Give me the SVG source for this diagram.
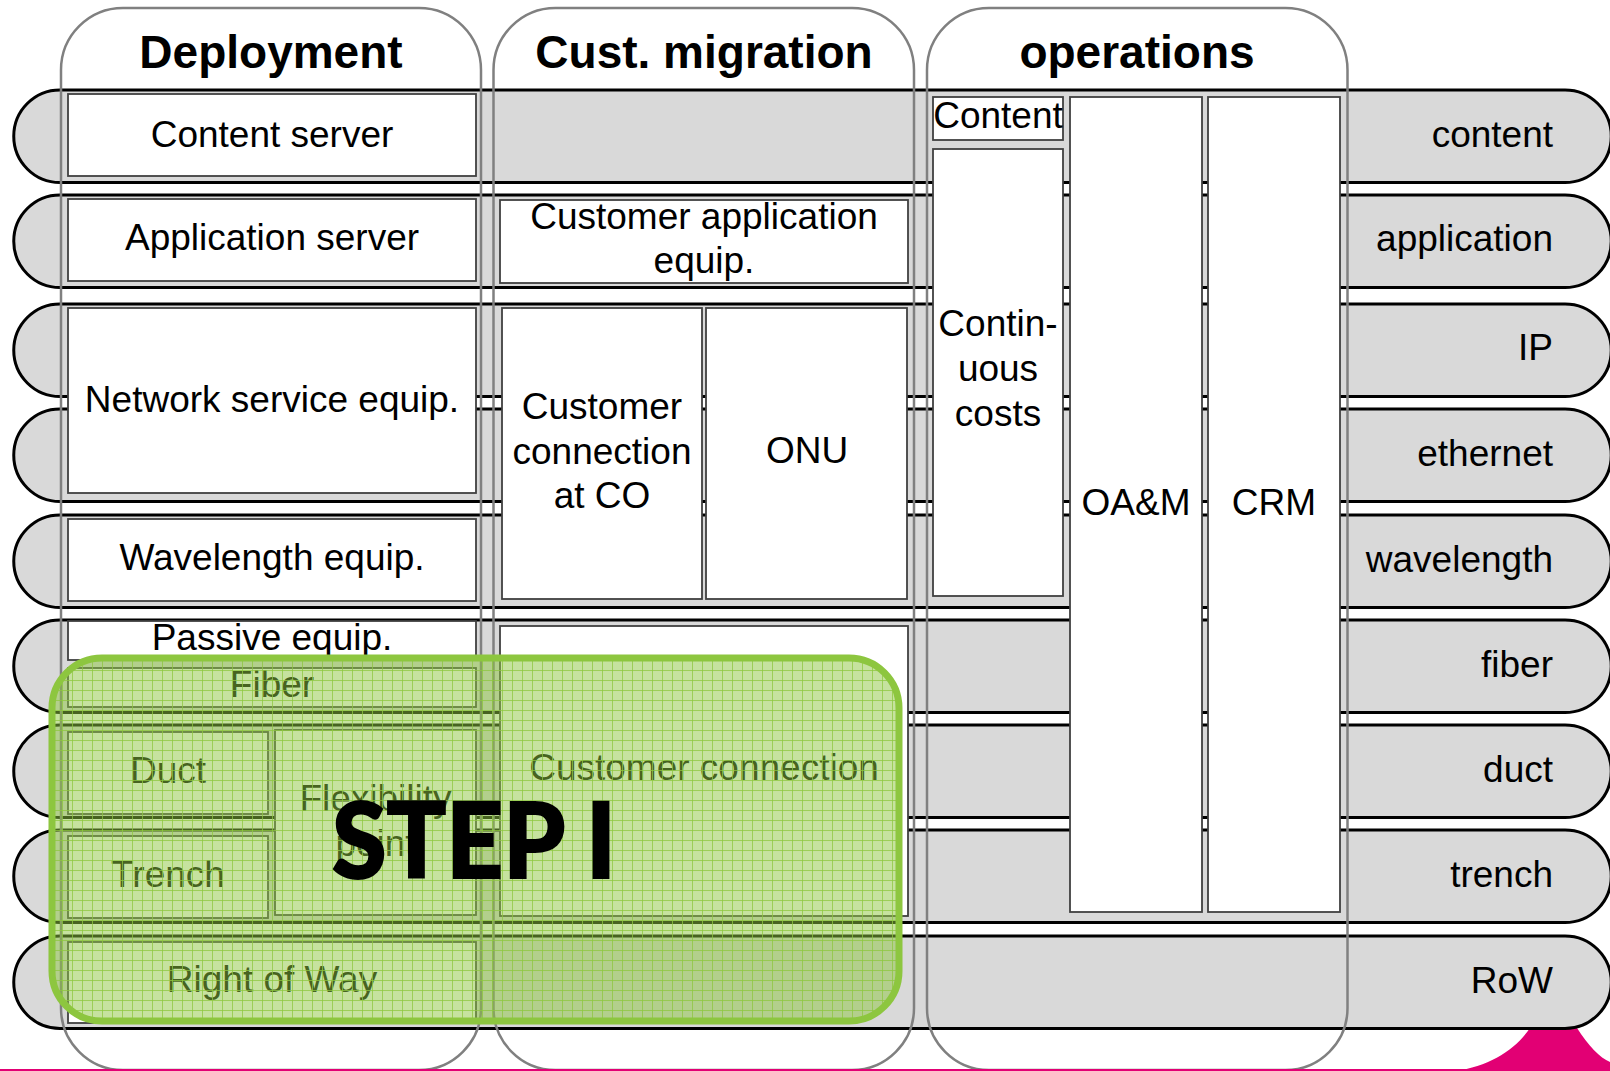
<svg xmlns="http://www.w3.org/2000/svg" width="1610" height="1071" viewBox="0 0 1610 1071">
<defs>
<style>
.row{fill:#d9d9d9;stroke:#000;stroke-width:3}
.col{fill:none;stroke:#808080;stroke-width:2.5}
.box{fill:#fff;stroke:#404040;stroke-width:1.8}
.t{font-family:"Liberation Sans",Arial,sans-serif;font-size:37px;fill:#000;text-anchor:middle}
.lbl{font-family:"Liberation Sans",Arial,sans-serif;font-size:37px;fill:#000;text-anchor:end}
.hd{font-family:"Liberation Sans",Arial,sans-serif;font-size:46px;font-weight:bold;fill:#000;text-anchor:middle}
</style>
<pattern id="grid" width="10" height="10" patternUnits="userSpaceOnUse" x="2" y="0">
<path d="M0,0.5H10M0.5,0V10" stroke="#8dc63f" stroke-width="1" fill="none" stroke-opacity="0.75"/>
</pattern>
</defs>
<rect width="1610" height="1071" fill="#fff"/>
<path id="corner" d="M1455,1071 C1490,1066 1515,1050 1530,1028 L1577,1028 C1588,1045 1600,1058 1610,1062 L1610,1071 Z" fill="#e20074"/>
<g id="layers">
<g id="row-content"><path class="row" d="M60,90H1565A46.25,46.25 0 0 1 1565,182.5H60A46.25,46.25 0 0 1 60,90Z"/><text class="lbl" x="1553" y="147">content</text></g>
<g id="row-application"><path class="row" d="M60,195H1565A46.25,46.25 0 0 1 1565,287.5H60A46.25,46.25 0 0 1 60,195Z"/><text class="lbl" x="1553" y="251">application</text></g>
<g id="row-ip"><path class="row" d="M60,304H1565A46.25,46.25 0 0 1 1565,396.5H60A46.25,46.25 0 0 1 60,304Z"/><text class="lbl" x="1553" y="360">IP</text></g>
<g id="row-ethernet"><path class="row" d="M60,409H1565A46.25,46.25 0 0 1 1565,501.5H60A46.25,46.25 0 0 1 60,409Z"/><text class="lbl" x="1553" y="466">ethernet</text></g>
<g id="row-wavelength"><path class="row" d="M60,515H1565A46.25,46.25 0 0 1 1565,607.5H60A46.25,46.25 0 0 1 60,515Z"/><text class="lbl" x="1553" y="572">wavelength</text></g>
<g id="row-fiber"><path class="row" d="M60,620H1565A46.25,46.25 0 0 1 1565,712.5H60A46.25,46.25 0 0 1 60,620Z"/><text class="lbl" x="1553" y="677">fiber</text></g>
<g id="row-duct"><path class="row" d="M60,725H1565A46.25,46.25 0 0 1 1565,817.5H60A46.25,46.25 0 0 1 60,725Z"/><text class="lbl" x="1553" y="782">duct</text></g>
<g id="row-trench"><path class="row" d="M60,830H1565A46.25,46.25 0 0 1 1565,922.5H60A46.25,46.25 0 0 1 60,830Z"/><text class="lbl" x="1553" y="887">trench</text></g>
<g id="row-row"><path class="row" d="M60,936H1565A46.25,46.25 0 0 1 1565,1028.5H60A46.25,46.25 0 0 1 60,936Z"/><text class="lbl" x="1553" y="993">RoW</text></g>
</g>
<g id="columns">
<g id="col-deployment"><rect class="col" x="61" y="8" width="420" height="1062" rx="62" ry="62"/><text class="hd" x="271" y="68">Deployment</text></g>
<g id="col-migration"><rect class="col" x="493.5" y="8" width="420.5" height="1062" rx="62" ry="62"/><text class="hd" x="704" y="68">Cust. migration</text></g>
<g id="col-operations"><rect class="col" x="927" y="8" width="420.5" height="1062" rx="62" ry="62"/><text class="hd" x="1137" y="68">operations</text></g>
</g>
<g id="boxes">
<g id="content-server"><rect class="box" x="68" y="94" width="408" height="82"/><text class="t" x="272" y="147">Content server</text></g>
<g id="application-server"><rect class="box" x="68" y="199" width="408" height="82"/><text class="t" x="272" y="250">Application server</text></g>
<g id="network-service"><rect class="box" x="68" y="308" width="408" height="185"/><text class="t" x="272" y="412">Network service equip.</text></g>
<g id="wavelength-equip"><rect class="box" x="68" y="519" width="408" height="82"/><text class="t" x="272" y="570">Wavelength equip.</text></g>
<g id="passive-equip"><rect class="box" x="68" y="621" width="408" height="39"/><text class="t" x="272" y="650">Passive equip.</text></g>
<g id="fiber"><rect class="box" x="68" y="668" width="408" height="39"/><text class="t" x="272" y="697">Fiber</text></g>
<g id="duct"><rect class="box" x="68" y="732" width="200" height="82"/><text class="t" x="168" y="783">Duct</text></g>
<g id="trench"><rect class="box" x="68" y="836" width="200" height="82"/><text class="t" x="168" y="887">Trench</text></g>
<g id="flexibility-point"><rect class="box" x="275" y="730" width="201" height="185"/><text class="t" x="375.5" y="811">Flexibility</text><text class="t" x="375.5" y="856">point</text></g>
<g id="right-of-way"><rect class="box" x="68" y="942" width="408" height="81"/><text class="t" x="272" y="992">Right of Way</text></g>
<g id="cust-app-equip"><rect class="box" x="500" y="200" width="408" height="83"/><text class="t" x="704" y="229">Customer application</text><text class="t" x="704" y="273">equip.</text></g>
<g id="cust-conn-co"><rect class="box" x="502" y="308" width="200" height="291"/><text class="t" x="602" y="419">Customer</text><text class="t" x="602" y="464">connection</text><text class="t" x="602" y="508">at CO</text></g>
<g id="onu"><rect class="box" x="706" y="308" width="201" height="291"/><text class="t" x="807" y="463">ONU</text></g>
<g id="cust-connection"><rect class="box" x="500" y="626" width="408" height="290"/><text class="t" x="704" y="780">Customer connection</text></g>
<g id="content-ops"><rect class="box" x="933" y="97" width="130" height="43"/><text class="t" x="998" y="128">Content</text></g>
<g id="continuous-costs"><rect class="box" x="933" y="149" width="130" height="447"/><text class="t" x="998" y="336">Contin-</text><text class="t" x="998" y="381">uous</text><text class="t" x="998" y="426">costs</text></g>
<g id="oam"><rect class="box" x="1070" y="97" width="132" height="815"/><text class="t" x="1136" y="515">OA&amp;M</text></g>
<g id="crm"><rect class="box" x="1208" y="97" width="132" height="815"/><text class="t" x="1274" y="515">CRM</text></g>
</g>
<g id="step1">
<rect x="52" y="658" width="847" height="363" rx="50" ry="50" fill="#8dc63f" fill-opacity="0.5"/>
<rect x="52" y="658" width="847" height="363" rx="50" ry="50" fill="url(#grid)" stroke="#8dc63f" stroke-width="7"/>
<text x="332" y="878" textLength="284" lengthAdjust="spacingAndGlyphs" font-family="Lato,'Open Sans',sans-serif" font-weight="900" font-size="105" fill="#000" stroke="#000" stroke-width="2">STEP I</text>
</g>
<rect id="bottom-line" x="0" y="1069" width="1610" height="2" fill="#e20074"/>
</svg>
